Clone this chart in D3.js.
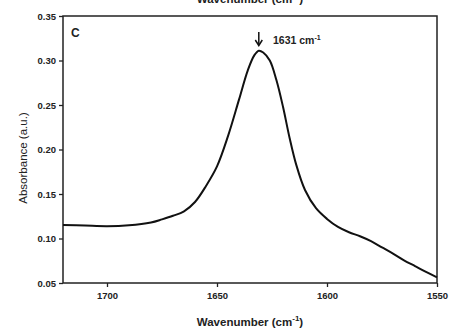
<!DOCTYPE html>
<html><head><meta charset="utf-8">
<script src="https://cdn.jsdelivr.net/npm/d3@7"></script>
<style>body{margin:0;background:#fff}svg{display:block}text{font-family:"Liberation Sans",Arial,sans-serif;fill:#222}</style>
</head><body>
<svg id="c" width="449" height="329"></svg>
<script>
const wavenumber = [1720,1710,1700,1690,1680,1675,1670,1665,1660,1655,1650,1645,1640,1636,1633,1631,1629,1626,1623,1620,1617,1614,1610,1605,1600,1595,1590,1585,1580,1575,1570,1565,1560,1555,1550];
const absorbance = [0.1152,0.1145,0.1138,0.1148,0.1180,0.1215,0.1255,0.1305,0.1410,0.1590,0.1810,0.2150,0.2560,0.2890,0.3060,0.3110,0.3090,0.3000,0.2780,0.2480,0.2130,0.1830,0.1545,0.1340,0.1220,0.1130,0.1070,0.1025,0.0970,0.0900,0.0830,0.0755,0.0690,0.0625,0.0564];
const xTicks = [1700,1650,1600,1550];
const yTicks = [0.05,0.10,0.15,0.20,0.25,0.30,0.35];
const peak = {w:1631, label:"1631 cm"};

const svg = d3.select("#c");
const L=63,R=437,T=16,B=283;
const x = d3.scaleLinear().domain([1720,1550]).range([L,R]);
const y = d3.scaleLinear().domain([0.05,0.35]).range([B,T]);

// frame
svg.append("rect").attr("x",L).attr("y",T).attr("width",R-L).attr("height",B-T)
  .attr("fill","none").attr("stroke","#222").attr("stroke-width",1.5);

const xa = svg.append("g").attr("transform",`translate(0,${B})`)
  .call(d3.axisBottom(x).tickValues(xTicks).tickFormat(d3.format("d")).tickSize(4).tickPadding(5));
const ya = svg.append("g").attr("transform",`translate(${L},0)`)
  .call(d3.axisLeft(y).tickValues(yTicks).tickFormat(d3.format(".2f")).tickSize(4).tickPadding(3));
[xa,ya].forEach(g=>{
  g.select(".domain").remove();
  g.selectAll("line").attr("stroke","#222").attr("stroke-width",1.3);
  g.selectAll("text").attr("font-size",9.5).attr("font-weight","bold").attr("fill","#333")
    .attr("font-family","'Liberation Sans',Arial,sans-serif");
});

const data = wavenumber.map((w,i)=>({w,a:absorbance[i]}));
svg.append("path").datum(data)
  .attr("fill","none").attr("stroke","#111").attr("stroke-width",2)
  .attr("d", d3.line().x(d=>x(d.w)).y(d=>y(d.a)).curve(d3.curveCatmullRom.alpha(0.5)));

// panel label
svg.append("text").attr("x",71).attr("y",37).attr("font-size",12).attr("font-weight","bold").text("C");

// arrow + peak label
const ax = x(peak.w);
svg.append("line").attr("x1",ax).attr("x2",ax).attr("y1",32).attr("y2",45).attr("stroke","#111").attr("stroke-width",1.5);
svg.append("path").attr("d",`M${ax-3.5},${40} L${ax},${45.5} L${ax+3.5},${40}`).attr("fill","none").attr("stroke","#111").attr("stroke-width",1.5);
const pl = svg.append("text").attr("x",273).attr("y",44).attr("font-size",10.5).attr("font-weight","bold");
pl.append("tspan").text(peak.label);
pl.append("tspan").attr("dy",-4).attr("font-size",7).text("-1");

// axis titles
const xt = svg.append("text").attr("x",250).attr("y",326).attr("text-anchor","middle").attr("font-size",11.5).attr("font-weight","bold");
xt.append("tspan").text("Wavenumber (cm");
xt.append("tspan").attr("dy",-5).attr("font-size",8).text("-1");
xt.append("tspan").attr("dy",5).text(")");

const tt = svg.append("text").attr("x",250).attr("y",3).attr("text-anchor","middle").attr("font-size",11.5).attr("font-weight","bold").attr("fill","#666");
tt.append("tspan").text("Wavenumber (cm");
tt.append("tspan").attr("dy",-5).attr("font-size",8).text("-1");
tt.append("tspan").attr("dy",5).text(")");

svg.append("text").attr("transform","translate(27,158) rotate(-90)").attr("text-anchor","middle")
  .attr("font-size",11.5).text("Absorbance (a.u.)");
</script>
</body></html>
